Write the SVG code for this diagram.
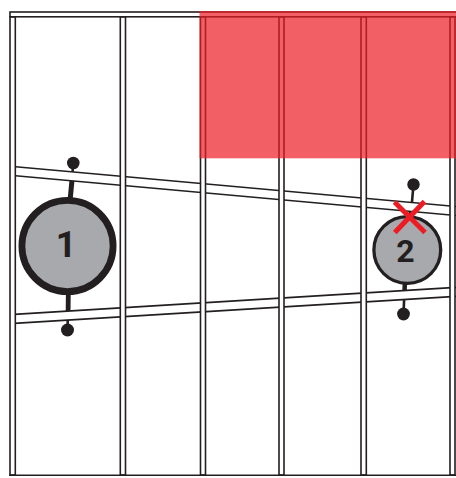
<svg xmlns="http://www.w3.org/2000/svg" width="456" height="478" viewBox="0 0 456 478">
  <defs>
    <style>
      .ln { stroke: #231f20; stroke-width: 1.6; fill: none; }
      .stud { fill: #ffffff; stroke: #231f20; stroke-width: 1.6; }
      .plate { fill: #ffffff; stroke: none; }
      .pin { stroke: #231f20; fill: none; stroke-linecap: butt; }
      .dot { fill: #231f20; }
      .disc { fill: #a7a9ac; stroke: #231f20; }
      .num { font-family: Roboto, "Liberation Sans", sans-serif; font-weight: 700; fill: #231f20; text-anchor: middle; }
    </style>
  </defs>
  <rect x="0" y="0" width="456" height="478" fill="#ffffff"/>

  <g id="connectors">
    <line class="pin" x1="73.3" y1="163" x2="70.2" y2="198" stroke-width="2.6"/>
    <line class="pin" x1="72.2" y1="178" x2="70.2" y2="199" stroke-width="5"/>
    <line class="pin" x1="68.3" y1="294" x2="67.5" y2="330" stroke-width="2.6"/>
    <line class="pin" x1="68.3" y1="294" x2="68.1" y2="312" stroke-width="4.8"/>
    <line class="pin" x1="413.5" y1="184.5" x2="410.7" y2="217" stroke-width="2.6"/>
    <line class="pin" x1="411.3" y1="208" x2="410.6" y2="217" stroke-width="4.5"/>
    <line class="pin" x1="404.8" y1="284" x2="403.5" y2="314" stroke-width="2.6"/>
    <line class="pin" x1="404.8" y1="284" x2="404.5" y2="292" stroke-width="4.5"/>
  </g>

  <g id="plate-upper">
    <polygon class="plate" points="10,166.25 456,206.5 456,215.5 10,175.25"/>
    <line class="ln" x1="10" y1="166.25" x2="456" y2="206.5"/>
    <line class="ln" x1="10" y1="175.25" x2="456" y2="215.5"/>
  </g>
  <g id="plate-lower">
    <polygon class="plate" points="10,314.6 456,287.4 456,296.4 10,323.6"/>
    <line class="ln" x1="10" y1="314.6" x2="456" y2="287.4"/>
    <line class="ln" x1="10" y1="323.6" x2="456" y2="296.4"/>
  </g>

  <g id="studs">
    <rect class="stud" x="10" y="16.8" width="5.3" height="458.2"/>
    <rect class="stud" x="120.3" y="16.8" width="5.2" height="458.2"/>
    <rect class="stud" x="200.5" y="16.8" width="5" height="458.2"/>
    <rect class="stud" x="279" y="16.8" width="5" height="458.2"/>
    <rect class="stud" x="361" y="16.8" width="5.3" height="458.2"/>
    <rect class="stud" x="450" y="16.8" width="5" height="458.2"/>
  </g>
  <g id="top-plate">
    <rect class="stud" x="10" y="12" width="448" height="4.8"/>
  </g>
  <g id="bottom-plate">
    <line class="ln" x1="9.2" y1="475.2" x2="456" y2="475.2"/>
  </g>

  <g id="node-1">
    <circle class="dot" cx="73.3" cy="163" r="6.3"/>
    <circle class="dot" cx="67.5" cy="330" r="6.5"/>
    <circle class="disc" cx="67.5" cy="246" r="45.6" stroke-width="6.8"/>
    <text class="num" x="66" y="257.3" font-size="36">1</text>
  </g>

  <g id="node-2">
    <circle class="dot" cx="413.5" cy="184.5" r="6.2"/>
    <circle class="dot" cx="403.5" cy="314" r="6.4"/>
    <circle class="disc" cx="407.3" cy="250" r="33.4" stroke-width="3.3"/>
    <text class="num" x="405.5" y="261.7" font-size="32">2</text>
  </g>

  <g id="red-zone">
    <rect x="199.5" y="11" width="256.5" height="147.3" fill="#ed1c24" fill-opacity="0.7"/>
  </g>

  <g id="red-x" stroke="#ed1c24" stroke-width="5" stroke-linecap="butt">
    <line x1="394.5" y1="202" x2="425" y2="232.5"/>
    <line x1="424.5" y1="201.5" x2="394.8" y2="232.5"/>
  </g>
</svg>
